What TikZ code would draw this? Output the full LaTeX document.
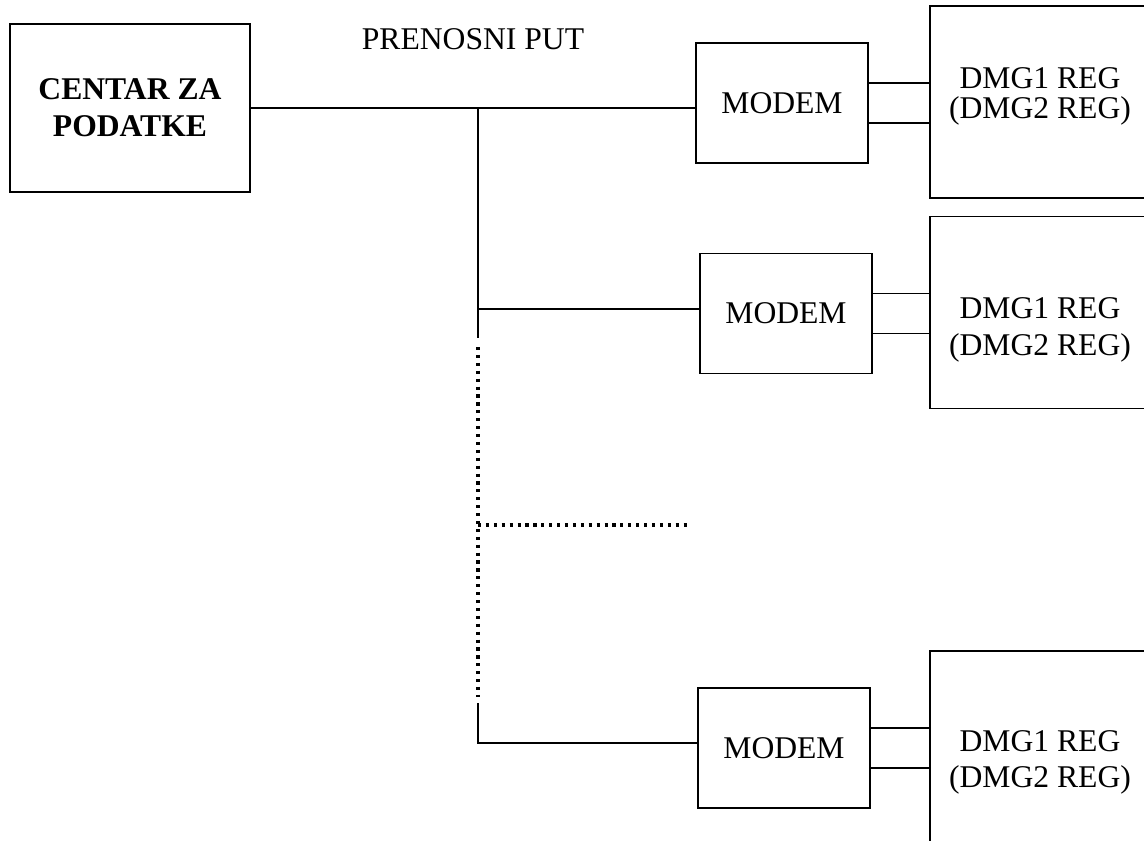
\documentclass[tikz,border=0pt]{standalone}
\usepackage{fontspec}
\setmainfont{Liberation Serif}
\usepackage{tikz}
\usetikzlibrary{positioning}
\tikzset{
  centar/.style={rectangle, draw, line width=0.75pt, minimum width=4.8cm, minimum height=3.36cm, inner sep=0pt, align=center, font=\fontsize{18}{21}\selectfont\bfseries},
  modem/.style={rectangle, draw, line width=0.75pt, minimum width=3.44cm, minimum height=2.4cm, inner sep=0pt, font=\fontsize{18}{21}\selectfont},
  regbox/.style={rectangle, draw, line width=0.75pt, minimum width=4.4cm, minimum height=3.84cm, inner sep=0pt},
  regtxt/.style={align=center, inner sep=0pt, font=\fontsize{18}{17}\selectfont},
  wire/.style={line width=0.75pt},
  dotwire/.style={line width=2pt, dash pattern=on 1.8pt off 2.7pt}
}

\begin{document}
\begin{tikzpicture}[x=0.02cm, y=-0.02cm]
  \useasboundingbox (0,0) rectangle (1144,840);
  \clip (0,0) rectangle (1144,840);

  % Helper macro: one modem with its register box
  \def\branch#1#2#3#4#5{%
    % #1 = name, #2 = modem x, #3 = modem y, #4 = text shift, #5 = extra line gap
    \node[modem] (mod#1) at (#2,#3) {MODEM};
    \node[regbox] (reg#1) at (1040,#3-1) {};
    \node[regtxt] (txt#1) at (1040,#3+#4) {DMG1 REG\\[#5](DMG2 REG)};
    \draw[wire] ([yshift=4mm]mod#1.east) -- ([yshift=4mm]mod#1.east -| reg#1.west);
    \draw[wire] ([yshift=-4mm]mod#1.east) -- ([yshift=-4mm]mod#1.east -| reg#1.west);
  }

  % Data centre and transmission path
  \node[centar] (centar) at (130,108) {CENTAR ZA\\PODATKE};
  \node[font=\fontsize{18}{21}\selectfont] (put) at (473,39) {PRENOSNI PUT};

  \branch{1}{782}{103}{-7}{0pt}
  \branch{2}{786}{313.5}{16}{4pt}
  \branch{3}{784}{748}{14}{3.5pt}

  % Trunk coordinates
  \coordinate (j1) at (478,108);
  \coordinate (j2) at (478,309);
  \coordinate (t1) at (478,338);
  \coordinate (d1) at (478,347);
  \coordinate (jd) at (478,525);
  \coordinate (dend) at (690,525);
  \coordinate (d2) at (478,697);
  \coordinate (t2) at (478,703);
  \coordinate (j3) at (478,743);

  \draw[wire] (centar.east) -- (centar.east -| mod1.west);
  \draw[wire] (j1) -- (t1);
  \draw[wire] (j2) -- (j2 -| mod2.west);
  \draw[dotwire] (d1) -- (d2);
  \draw[dotwire] (jd) -- (dend);
  \draw[wire] (t2) -- (j3) -- (j3 -| mod3.west);

\end{tikzpicture}
\end{document}
